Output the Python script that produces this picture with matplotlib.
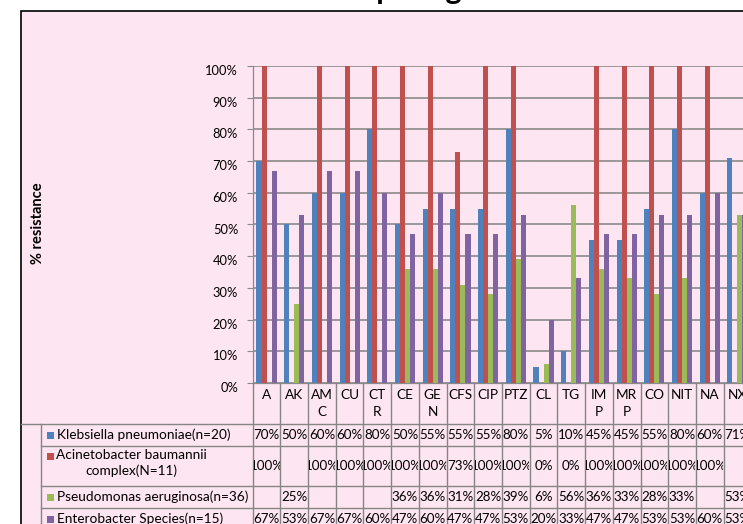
import numpy as np
import matplotlib.pyplot as plt
from matplotlib.patches import Rectangle
from matplotlib.lines import Line2D
from matplotlib.transforms import ScaledTranslation, Bbox, TransformedBbox

# ------------------- data
drugs = ["A", "AK", "AM\nC", "CU", "CT\nR", "CE", "GE\nN", "CFS", "CIP", "PTZ",
         "CL", "TG", "IM\nP", "MR\nP", "CO", "NIT", "NA", "NX"]
series_names = ["Klebsiella pneumoniae(n=20)",
                "Acinetobacter baumannii\ncomplex(N=11)",
                "Pseudomonas aeruginosa(n=36)",
                "Enterobacter Species(n=15)"]
klebsiella = [70, 50, 60, 60, 80, 50, 55, 55, 55, 80, 5, 10, 45, 45, 55, 80, 60, 71]
acinetobacter = [100, None, 100, 100, 100, 100, 100, 73, 100, 100, 0, 0, 100, 100, 100, 100, 100, None]
pseudomonas = [None, 25, None, None, None, 36, 36, 31, 28, 39, 6, 56, 36, 33, 28, 33, None, 53]
enterobacter = [67, 53, 67, 67, 60, 47, 60, 47, 47, 53, 20, 33, 47, 47, 53, 53, 60, 53]
yticks = [0, 10, 20, 30, 40, 50, 60, 70, 80, 90, 100]

series = [klebsiella, acinetobacter, pseudomonas, enterobacter]
colors = ["#4F81BD", "#C0504D", "#9BBB59", "#8064A2"]
pink = "#FDE5F1"
gridc = "#8A8A8A"
tablec = "#858585"

plt.rcParams["font.family"] = ["Lato", "DejaVu Sans"]

W, H = 743, 524
fig = plt.figure(figsize=(W / 100, H / 100), dpi=100)
fig.patch.set_facecolor("white")

def fx(px):
    return px / W

def fy(py):
    return 1 - py / H

# chart area (cropped on the right and bottom)
fig.add_artist(Rectangle((fx(21), fy(H + 20)), fx(W + 40) - fx(21), fy(11) - fy(H + 20),
                         transform=fig.transFigure, facecolor=pink, edgecolor="black",
                         lw=1.2, zorder=0))

# title, only its descenders are left in the crop
fig.text(fx(313), fy(-0.5), "Comparing resistance of isolates", fontsize=22,
         fontweight="bold", va="baseline", ha="left", color="black")

# ------------------- bars
x0, x1, ytop, ybot = 252.7, 751.3, 66, 383
ax = fig.add_axes([fx(x0), fy(ybot), fx(x1) - fx(x0), fy(ytop) - fy(ybot)])
ax.set_facecolor("none")
n = len(drugs)
x = np.arange(n)
w = 1 / 5.5
for k, (vals, c) in enumerate(zip(series, colors)):
    v = np.array([np.nan if t is None else t for t in vals], dtype=float)
    ax.bar(x + (k - 1.5) * w, v, width=w, color=c, zorder=3)

ax.set_xlim(-0.5, n - 0.5)
ax.set_ylim(0, 100)
ax.set_yticks(yticks)
ax.set_yticklabels([f"{t}%" for t in yticks], fontsize=9.3)
ax.set_xticks([])
ax.yaxis.grid(True, color=gridc, lw=1.2, zorder=1)
ax.tick_params(axis="y", direction="out", length=4, width=0.8, color=gridc, pad=6.5)
offset = ScaledTranslation(0, -4 / 100, fig.dpi_scale_trans)
for lab in ax.get_yticklabels():
    lab.set_transform(lab.get_transform() + offset)
for s in ["top", "right"]:
    ax.spines[s].set_visible(False)
for s in ["left", "bottom"]:
    ax.spines[s].set_color(gridc)
    ax.spines[s].set_linewidth(0.9)

fig.text(fx(38), fy(223), "% resistance", rotation=90, fontsize=10.5, fontweight="bold",
         ha="center", va="center")

# ------------------- data table
rows = [383, 424, 446, 486, 508, 530]
tab = fig.add_axes([fx(x0), fy(rows[-1]), fx(x1) - fx(x0), fy(rows[0]) - fy(rows[-1])], sharex=ax)
tab.set_ylim(rows[-1] - rows[0], 0)
tab.axis("off")

def line(xa, xb, ya, yb):
    fig.add_artist(Line2D([fx(xa), fx(xb)], [fy(ya), fy(yb)], transform=fig.transFigure,
                          color=tablec, lw=1.0, zorder=2))

for b in np.arange(n + 1) - 0.5:
    tab.plot([b, b], [0, rows[-1] - rows[0]], color=tablec, lw=1.0, clip_on=False)
line(21, W + 10, rows[1], rows[1])
for r in rows[2:5]:
    line(41, W + 10, r, r)
line(41, 41, rows[1], H + 10)

# header: drug names
for i, lab in enumerate(drugs):
    tab.text(i, 6, lab, ha="center", va="top", fontsize=9.8, linespacing=1.5)

# values (clipped to their cell, as Excel does) and legend keys
for k, (vals, c, name) in enumerate(zip(series, colors, series_names)):
    top, bot = rows[k + 1] - rows[0], rows[k + 2] - rows[0]
    yc = (top + bot) / 2
    for i, v in enumerate(vals):
        if v is None:
            continue
        t = tab.text(i, yc, f"{v}%", ha="center", va="center", fontsize=9.6)
        cell = TransformedBbox(Bbox([[i - 0.5 + 0.03, top], [i + 0.5 - 0.03, bot]]), tab.transData)
        t.set_clip_box(cell)
        t.set_clip_on(True)
    if k == 1:
        ky = rows[2] + 10
        fig.text(fx(131), fy(rows[2] + 3), name, ha="center", va="top", fontsize=9.8,
                 multialignment="center", linespacing=1.3)
    else:
        ky = (rows[k + 1] + rows[k + 2]) / 2
        fig.text(fx(57), fy(ky), name, ha="left", va="center", fontsize=9.8)
    fig.add_artist(Rectangle((fx(47), fy(ky + 3.5)), fx(7), fy(0) - fy(7),
                             transform=fig.transFigure, facecolor=c, edgecolor="none"))

fig.savefig("out.png", dpi=100, facecolor="white")
